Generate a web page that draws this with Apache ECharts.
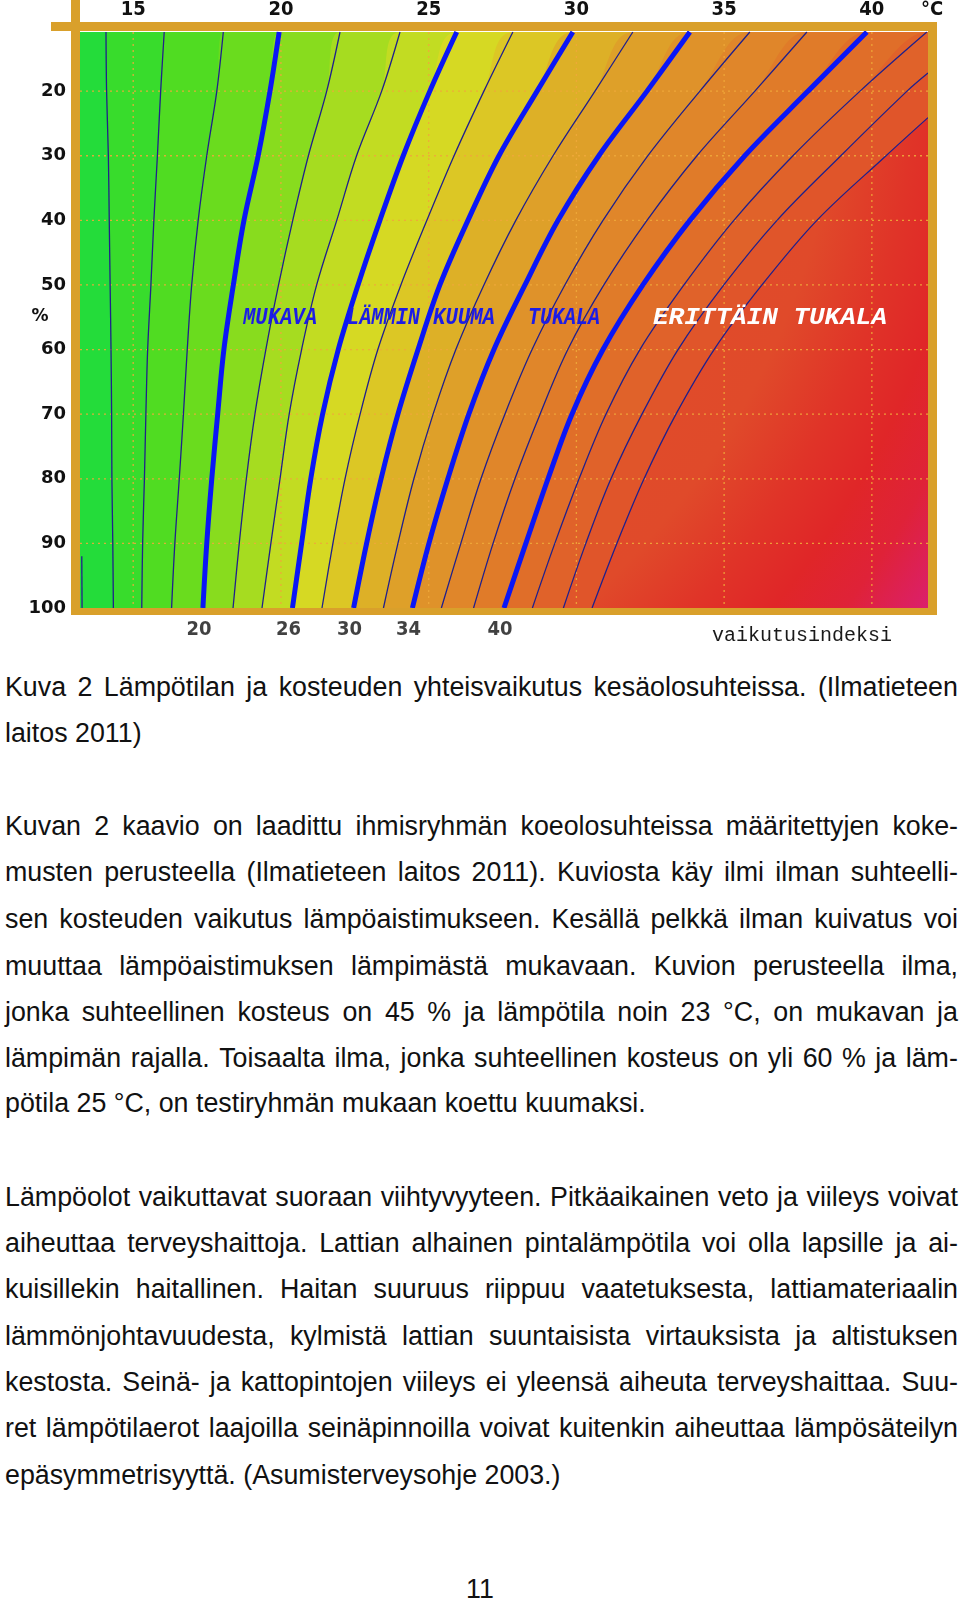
<!DOCTYPE html>
<html>
<head>
<meta charset="utf-8">
<script src="https://cdn.jsdelivr.net/npm/echarts/dist/echarts.min.js"></script>
<style>
html,body{margin:0;padding:0;background:#fff;}
#page{position:relative;width:960px;height:1602px;overflow:hidden;background:#fff;}
#chart{position:absolute;left:0;top:0;width:960px;height:650px;}
.ln{position:absolute;left:5px;width:953px;height:46px;line-height:46px;font-family:"Liberation Sans",Arial,sans-serif;font-size:26.8px;color:#111;white-space:nowrap;}
.ln.j{display:flex;justify-content:space-between;}
.pg{position:absolute;left:0;width:960px;text-align:center;height:46px;line-height:46px;font-family:"Liberation Sans",Arial,sans-serif;font-size:26.8px;color:#111;}
</style>
</head>
<body>
<div id="page">
  <div id="chart"></div>
  <div id="text"></div>
</div>
<script>
// ---------------- data ----------------
// humidity rows (%) at which each contour's temperature (°C) was read
const humidity = [10.85, 20, 30, 40, 50, 60, 70, 80, 90, 100];
const xTicks = [15, 20, 25, 30, 35, 40];
const yTicks = [20, 30, 40, 50, 60, 70, 80, 90, 100];
const levels = [14, 16, 18, 20, 22, 24, 26, 28, 30, 32, 34, 36, 38, 40, 42, 44, 46];
const thickLevels = [20, 26, 30, 34, 40];
const c12 = [[13.26, 92], [13.27, 100]];
const t14 = [14.08, 14.10, 14.16, 14.19, 14.22, 14.25, 14.27, 14.28, 14.31, 14.33];
const t16 = [16.05, 15.93, 15.82, 15.70, 15.60, 15.49, 15.43, 15.38, 15.32, 15.29];
const t18 = [18.05, 17.83, 17.49, 17.20, 16.98, 16.83, 16.70, 16.56, 16.41, 16.30];
const t20 = [19.94, 19.63, 19.23, 18.75, 18.39, 18.07, 17.86, 17.66, 17.49, 17.36];
const t22 = [22.00, 21.55, 20.93, 20.40, 19.92, 19.49, 19.12, 18.83, 18.59, 18.38];
const t24 = [24.03, 23.41, 22.56, 21.89, 21.21, 20.70, 20.28, 19.97, 19.66, 19.36];
const t26 = [25.95, 25.04, 24.14, 23.35, 22.61, 21.94, 21.41, 21.01, 20.70, 20.39];
const t28 = [27.85, 26.87, 25.86, 24.94, 24.06, 23.28, 22.68, 22.17, 21.76, 21.39];
const t30 = [29.88, 28.67, 27.38, 26.33, 25.38, 24.64, 23.96, 23.39, 22.90, 22.46];
const t32 = [31.91, 30.63, 29.21, 27.95, 26.87, 25.92, 25.15, 24.50, 23.96, 23.47];
const t34 = [33.84, 32.39, 30.76, 29.38, 28.26, 27.21, 26.36, 25.65, 25.01, 24.45];
const t36 = [35.87, 34.18, 32.42, 30.90, 29.61, 28.50, 27.58, 26.77, 26.09, 25.43];
const t38 = [37.80, 36.04, 34.08, 32.39, 30.93, 29.71, 28.77, 27.92, 27.18, 26.52];
const t40 = [39.83, 37.84, 35.70, 33.84, 32.25, 30.90, 29.85, 29.04, 28.29, 27.55];
const t42 = [41.86, 39.60, 37.33, 35.33, 33.64, 32.15, 31.00, 30.09, 29.27, 28.51];
const t44 = [null, 41.19, 38.95, 36.79, 34.99, 33.44, 32.22, 31.17, 30.32, 29.56];
const t46 = [null, null, 40.48, 38.14, 36.28, 34.66, 33.37, 32.29, 31.37, 30.53];
// humidity where contours 44 and 46 leave through the right edge of the plot
const edgeHumidity44 = 17.2;
const edgeHumidity46 = 24.1;
const categoryLabels = ['MUKAVA', 'LÄMMIN', 'KUUMA', 'TUKALA', 'ERITTÄIN TUKALA'];

// ---------------- styles ----------------
const xMin = 13.2, xMax = 41.9, yMin = 10.85, yMax = 100;
const FRAME = '#d9a02b';
const leftFill = '#24dc3a';
const bandFills = ['#38dc2c', '#50dc22', '#6adc1e', '#88dc1e', '#a6dc20', '#c2dc22', '#d6d923',
  '#dcc725', '#ddb027', '#dea029', '#df922a', '#e0862a', '#e07b29', '#e06e29', '#e0622a', '#e0552a'];
const hotFill = {
  type: 'radial', x: 80, y: 31, r: 1030, global: true,
  colorStops: [
    {offset: 0, color: '#e0552a'},
    {offset: 0.74, color: '#e04a2a'},
    {offset: 0.815, color: '#e03428'},
    {offset: 0.875, color: '#e02628'},
    {offset: 0.93, color: '#df2238'},
    {offset: 1, color: '#db1f70'}
  ]
};
const tables = {14: t14, 16: t16, 18: t18, 20: t20, 22: t22, 24: t24, 26: t26, 28: t28, 30: t30,
  32: t32, 34: t34, 36: t36, 38: t38, 40: t40, 42: t42, 44: t44, 46: t46};
const edgeH = {44: edgeHumidity44, 46: edgeHumidity46};

function contourPoints(level) {
  const t = tables[level];
  const pts = [];
  humidity.forEach((h, i) => { if (t[i] != null) pts.push([t[i], h]); });
  if (edgeH[level] != null) pts.push([xMax, edgeH[level]]);
  pts.sort((a, b) => a[0] - b[0]);
  return pts;
}

const SMOOTH = 0.35;
const series = [];
// filled regions: region to the right of each contour, painted in order
levels.forEach((lv, idx) => {
  const pts = contourPoints(lv);
  const rising = pts[0][1] < pts[pts.length - 1][1];
  const data = pts.slice();
  let origin;
  if (rising) { data.push([xMax, yMax]); origin = yMin; }
  else {
    if (data[data.length - 1][0] < xMax) data.push([xMax, yMin]);
    origin = yMax;
  }
  series.push({
    type: 'line', data: data, smooth: SMOOTH, symbol: 'none', silent: true, z: 1,
    lineStyle: {width: 0, opacity: 0},
    areaStyle: {color: idx < bandFills.length ? bandFills[idx] : hotFill, opacity: 1, origin: origin},
    animation: false
  });
});

// dotted grid lines
const gridData = [];
xTicks.forEach(v => gridData.push([v, yMin, 0]));
yTicks.filter(v => v < yMax).forEach(v => gridData.push([xMin, v, 1]));
series.push({
  type: 'custom', coordinateSystem: 'cartesian2d', silent: true, z: 2, animation: false,
  data: gridData,
  renderItem: function (params, api) {
    const kind = api.value(2);
    let p1, p2;
    if (kind === 0) { p1 = api.coord([api.value(0), yMin]); p2 = api.coord([api.value(0), yMax]); }
    else { p1 = api.coord([xMin, api.value(1)]); p2 = api.coord([xMax, api.value(1)]); }
    return {type: 'line', shape: {x1: p1[0], y1: p1[1], x2: p2[0], y2: p2[1]},
      style: {stroke: '#eea83a', lineWidth: 1.3, lineDash: [2, 4], opacity: 0.9}};
  }
});

// contour lines
series.push({type: 'line', data: c12, symbol: 'none', silent: true, z: 3, animation: false,
  lineStyle: {color: '#20208c', width: 1.3}});
levels.forEach(lv => {
  const thick = thickLevels.indexOf(lv) >= 0;
  series.push({
    type: 'line', data: contourPoints(lv), smooth: SMOOTH, symbol: 'none', silent: true, z: thick ? 4 : 3,
    animation: false,
    lineStyle: {color: thick ? '#0a16f6' : '#20208c', width: thick ? 5 : 1.3}
  });
});

// index labels under the plot, at the bottom end of the thick contours
const CONDENSED = '"DejaVu Sans Condensed", "Liberation Sans Narrow", sans-serif';
series.push({
  type: 'scatter', symbolSize: 0, silent: true, clip: false, z: 6, animation: false,
  data: thickLevels.map(lv => {
    const b = contourPoints(lv).find(p => p[1] === yMax);
    return {value: [b[0], yMax], label: {formatter: String(lv)}};
  }),
  label: {show: true, position: 'bottom', distance: 12, offset: [-4, 0],
    fontFamily: CONDENSED, fontWeight: 'bold', fontSize: 20, color: '#111'}
});

// ---------------- labels (graphic) ----------------
const measureCtx = document.createElement('canvas').getContext('2d');
function fitText(text, font, left, targetWidth, y, color) {
  measureCtx.font = font;
  const w = measureCtx.measureText(text).width || targetWidth;
  return {type: 'text', x: left, y: y, scaleX: targetWidth / w, z: 20,
    style: {text: text, font: font, fill: color, align: 'left', verticalAlign: 'middle'}};
}
const labelFont = 'italic bold 24px "Liberation Mono", "Courier New", monospace';
const labelLefts = [243, 347, 433, 528, 653];
const labelWidths = [74, 73, 62, 72, 234];
const labelColors = ['#1c1ce6', '#1c1ce6', '#1c1ce6', '#1c1ce6', '#ffffff'];

const graphic = [
  {type: 'rect', shape: {x: 71, y: 0, width: 9, height: 615}, style: {fill: FRAME}, z: 10},
  {type: 'rect', shape: {x: 51, y: 22, width: 886, height: 9}, style: {fill: FRAME}, z: 10},
  {type: 'rect', shape: {x: 928, y: 22, width: 9, height: 593, r: [0, 4, 0, 0]}, style: {fill: FRAME}, z: 10},
  {type: 'rect', shape: {x: 71, y: 608, width: 866, height: 7}, style: {fill: FRAME}, z: 10},
  {type: 'text', x: 932, y: 10, z: 20, style: {text: '°C', font: 'bold 20px ' + CONDENSED, fill: '#111', align: 'center', verticalAlign: 'middle'}},
  {type: 'text', x: 40, y: 317, z: 20, style: {text: '%', font: 'bold 17px "DejaVu Sans", sans-serif', fill: '#111', align: 'center', verticalAlign: 'middle'}},
  {type: 'text', x: 712, y: 636, z: 20, style: {text: 'vaikutusindeksi', font: '20px "Liberation Mono", monospace', fill: '#1a1a1a', align: 'left', verticalAlign: 'middle'}}
];
categoryLabels.forEach((t, i) => graphic.push(fitText(t, labelFont, labelLefts[i], labelWidths[i], 318, labelColors[i])));

const chart = echarts.init(document.getElementById('chart'), null, {renderer: 'canvas'});
chart.setOption({
  animation: false,
  grid: {left: 80, top: 30.5, width: 848, height: 577.5, show: true, backgroundColor: leftFill, borderWidth: 0},
  xAxis: {
    type: 'value', position: 'top', min: xMin, max: xMax,
    axisLine: {show: false}, axisTick: {show: false, customValues: xTicks}, splitLine: {show: false},
    axisLabel: {customValues: xTicks, margin: 12, fontFamily: CONDENSED, fontWeight: 'bold', fontSize: 20, color: '#111'}
  },
  yAxis: {
    type: 'value', inverse: true, min: yMin, max: yMax,
    axisLine: {show: false}, axisTick: {show: false, customValues: yTicks}, splitLine: {show: false},
    axisLabel: {customValues: yTicks, margin: 14, fontFamily: '"DejaVu Sans", sans-serif', fontWeight: 'bold', fontSize: 18, color: '#111'}
  },
  series: series,
  graphic: graphic
});

// ---------------- body text ----------------
const textLines = [
  ['Kuva 2 Lämpötilan ja kosteuden yhteisvaikutus kesäolosuhteissa. (Ilmatieteen', 686.6, true],
  ['laitos 2011)', 732.6, false],
  ['Kuvan 2 kaavio on laadittu ihmisryhmän koeolosuhteissa määritettyjen koke-', 825.5, true],
  ['musten perusteella (Ilmatieteen laitos 2011). Kuviosta käy ilmi ilman suhteelli-', 871.5, true],
  ['sen kosteuden vaikutus lämpöaistimukseen. Kesällä pelkkä ilman kuivatus voi', 918.5, true],
  ['muuttaa lämpöaistimuksen lämpimästä mukavaan. Kuvion perusteella ilma,', 965.5, true],
  ['jonka suhteellinen kosteus on 45 % ja lämpötila noin 23 °C, on mukavan ja', 1011.5, true],
  ['lämpimän rajalla. Toisaalta ilma, jonka suhteellinen kosteus on yli 60 % ja läm-', 1057.5, true],
  ['pötila 25 °C, on testiryhmän mukaan koettu kuumaksi.', 1103.4, false],
  ['Lämpöolot vaikuttavat suoraan viihtyvyyteen. Pitkäaikainen veto ja viileys voivat', 1197.4, true],
  ['aiheuttaa terveyshaittoja. Lattian alhainen pintalämpötila voi olla lapsille ja ai-', 1243.4, true],
  ['kuisillekin haitallinen. Haitan suuruus riippuu vaatetuksesta, lattiamateriaalin', 1289.4, true],
  ['lämmönjohtavuudesta, kylmistä lattian suuntaisista virtauksista ja altistuksen', 1336.4, true],
  ['kestosta. Seinä- ja kattopintojen viileys ei yleensä aiheuta terveyshaittaa. Suu-', 1382.4, true],
  ['ret lämpötilaerot laajoilla seinäpinnoilla voivat kuitenkin aiheuttaa lämpösäteilyn', 1428.3, true],
  ['epäsymmetrisyyttä. (Asumisterveysohje 2003.)', 1475.3, false]
];
const textBox = document.getElementById('text');
textLines.forEach(([txt, cy, just]) => {
  const d = document.createElement('div');
  d.className = just ? 'ln j' : 'ln';
  d.style.top = (cy - 23) + 'px';
  if (just) {
    txt.split(' ').forEach(w => { const s = document.createElement('span'); s.textContent = w; d.appendChild(s); });
  } else {
    d.textContent = txt;
  }
  textBox.appendChild(d);
});
const pg = document.createElement('div');
pg.className = 'pg';
pg.style.top = (1588.7 - 23) + 'px';
pg.textContent = '11';
textBox.appendChild(pg);
</script>
</body>
</html>
